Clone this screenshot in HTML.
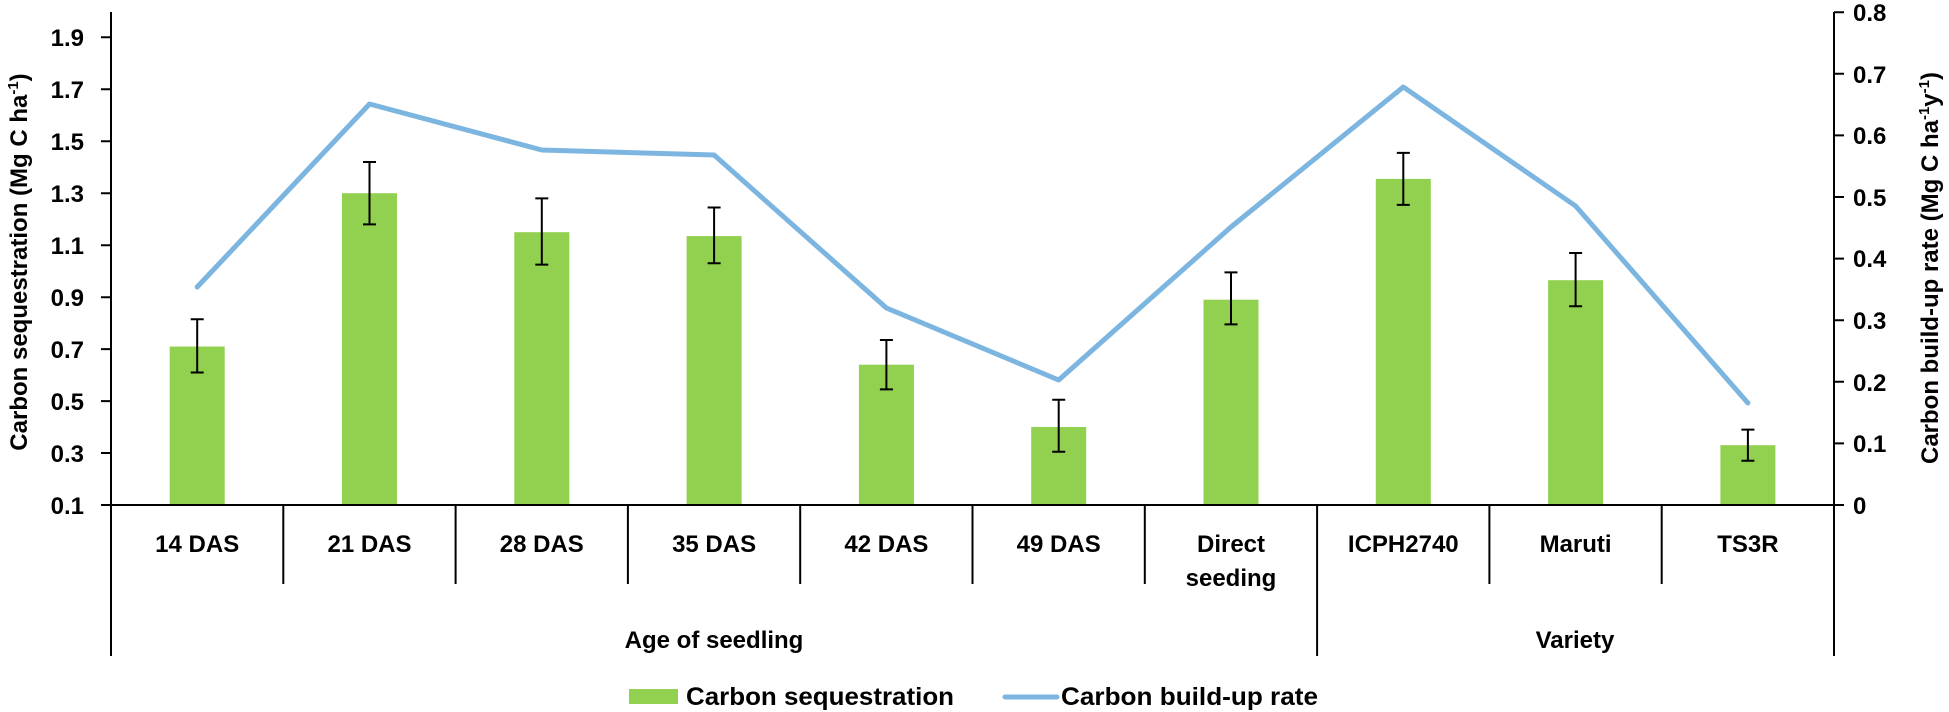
<!DOCTYPE html>
<html><head><meta charset="utf-8"><style>
html,body{margin:0;padding:0;background:#fff;}
svg{display:block;font-family:"Liberation Sans",Arial,sans-serif;}
.c{font-family:"Liberation Sans Narrow","Liberation Sans",Arial,sans-serif;}
</style></head><body>
<svg width="1949" height="712" viewBox="0 0 1949 712" xmlns="http://www.w3.org/2000/svg">
<g fill="#92d050">
<rect x="169.7" y="346.5" width="55" height="158.5"/>
<rect x="342" y="193.2" width="55" height="311.8"/>
<rect x="514.3" y="232.2" width="55" height="272.8"/>
<rect x="686.6" y="236.1" width="55" height="268.9"/>
<rect x="858.9" y="364.7" width="55" height="140.3"/>
<rect x="1031.2" y="427" width="55" height="78"/>
<rect x="1203.5" y="299.7" width="55" height="205.3"/>
<rect x="1375.8" y="178.9" width="55" height="326.1"/>
<rect x="1548.1" y="280.2" width="55" height="224.8"/>
<rect x="1720.4" y="445.2" width="55" height="59.8"/>
</g>
<g stroke="#000" stroke-width="2" fill="none">
<path d="M197.2 319.2V372.5M190.7 319.2H203.7M190.7 372.5H203.7"/>
<path d="M369.5 162V224.4M363 162H376M363 224.4H376"/>
<path d="M541.8 198.4V264.6M535.3 198.4H548.3M535.3 264.6H548.3"/>
<path d="M714.1 207.5V263.3M707.6 207.5H720.6M707.6 263.3H720.6"/>
<path d="M886.4 340V389.4M879.9 340H892.9M879.9 389.4H892.9"/>
<path d="M1058.7 399.8V451.7M1052.2 399.8H1065.2M1052.2 451.7H1065.2"/>
<path d="M1231 272.4V324.4M1224.5 272.4H1237.5M1224.5 324.4H1237.5"/>
<path d="M1403.3 152.9V204.9M1396.8 152.9H1409.8M1396.8 204.9H1409.8"/>
<path d="M1575.6 253V306.2M1569.1 253H1582.1M1569.1 306.2H1582.1"/>
<path d="M1747.9 429.6V460.8M1741.4 429.6H1754.4M1741.4 460.8H1754.4"/>
</g>
<polyline fill="none" stroke="#7cb5e0" stroke-width="5" stroke-linejoin="round" stroke-linecap="round" points="197.2,287 369.5,104 541.8,150 714.1,155 886.4,308 1058.7,380 1231,227 1403.3,87 1575.6,206 1747.9,403"/>
<g stroke="#000" stroke-width="2" fill="none">
<path d="M111 12V656M1834 12V656M101 505H1834"/>
<path d="M101 37.3H111M101 89.2H111M101 141.2H111M101 193.2H111M101 245.2H111M101 297.2H111M101 349.1H111M101 401.1H111M101 453H111"/>
<path d="M1834 12.2H1844M1834 73.8H1844M1834 135.4H1844M1834 197H1844M1834 258.6H1844M1834 320.2H1844M1834 381.8H1844M1834 443.4H1844M1834 505H1844"/>
<path d="M283.3 505V584M455.6 505V584M627.9 505V584M800.2 505V584M972.5 505V584M1144.8 505V584M1489.4 505V584M1661.7 505V584M1317.1 505V656"/>
</g>
<g font-size="24" font-weight="bold" text-anchor="end" fill="#000">
<text x="84" y="46">1.9</text><text x="84" y="98">1.7</text><text x="84" y="150">1.5</text><text x="84" y="202">1.3</text><text x="84" y="254">1.1</text><text x="84" y="306">0.9</text><text x="84" y="358">0.7</text><text x="84" y="410">0.5</text><text x="84" y="462">0.3</text><text x="84" y="514">0.1</text>
</g>
<g font-size="24" font-weight="bold" text-anchor="start" fill="#000">
<text x="1853" y="21">0.8</text><text x="1853" y="83">0.7</text><text x="1853" y="144">0.6</text><text x="1853" y="206">0.5</text><text x="1853" y="267">0.4</text><text x="1853" y="329">0.3</text><text x="1853" y="391">0.2</text><text x="1853" y="452">0.1</text><text x="1853" y="514">0</text>
</g>
<g class="c" font-size="24" font-weight="bold" text-anchor="middle" fill="#000">
<text x="197.2" y="552">14 DAS</text><text x="369.5" y="552">21 DAS</text><text x="541.8" y="552">28 DAS</text><text x="714.1" y="552">35 DAS</text><text x="886.4" y="552">42 DAS</text><text x="1058.7" y="552">49 DAS</text><text x="1231" y="552">Direct</text><text x="1231" y="586">seeding</text><text x="1403.3" y="552">ICPH2740</text><text x="1575.6" y="552">Maruti</text><text x="1747.9" y="552">TS3R</text>
<text x="714" y="648">Age of seedling</text><text x="1575" y="648">Variety</text>
</g>
<text class="c" transform="translate(27,262) rotate(-90)" font-size="24" font-weight="bold" text-anchor="middle">Carbon sequestration (Mg C ha<tspan font-size="15" dy="-9">-1</tspan><tspan dy="9">)</tspan></text>
<text class="c" transform="translate(1938,268) rotate(-90)" font-size="24" font-weight="bold" text-anchor="middle">Carbon build-up rate  (Mg C ha<tspan font-size="15" dy="-9">-1</tspan><tspan dy="9">y</tspan><tspan font-size="15" dy="-9">-1</tspan><tspan dy="9">)</tspan></text>
<rect x="629" y="689" width="49" height="15" fill="#92d050"/>
<text class="c" x="686" y="705" font-size="25" font-weight="bold" textLength="268" lengthAdjust="spacingAndGlyphs">Carbon sequestration</text>
<line x1="1005" y1="697" x2="1057" y2="697" stroke="#7cb5e0" stroke-width="5" stroke-linecap="round"/>
<text class="c" x="1061" y="705" font-size="25" font-weight="bold" textLength="257" lengthAdjust="spacingAndGlyphs">Carbon build-up rate</text>
</svg>
</body></html>
